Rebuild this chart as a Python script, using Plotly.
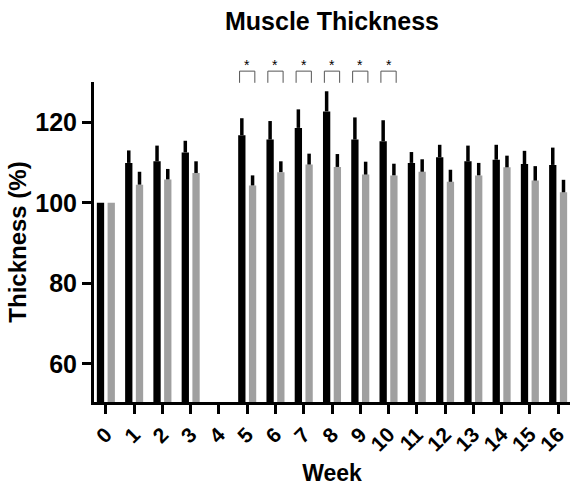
import plotly.graph_objects as go

# ---- data ----
weeks = list(range(17))
week_labels = [str(w) for w in weeks]

black_vals = [100, 109.9, 110.3, 112.5, None, 116.8, 115.7, 118.6, 122.7,
              115.7, 115.3, 109.9, 111.3, 110.3, 110.7, 109.6, 109.4]
black_err = [0, 3.1, 3.9, 2.9, 0, 4.2, 4.6, 4.6, 5.0,
             5.5, 5.2, 2.7, 3.1, 3.9, 3.7, 3.3, 4.3]

gray_vals = [100, 104.5, 105.8, 107.4, None, 104.3, 107.6, 109.5, 108.9,
             107.0, 106.8, 107.7, 105.2, 106.8, 108.8, 105.5, 102.6]
gray_err = [0, 3.2, 2.6, 2.9, 0, 2.5, 2.7, 2.7, 3.2,
            3.2, 2.9, 3.1, 3.0, 3.1, 2.9, 3.6, 3.1]

sig_weeks = [5, 6, 7, 8, 9, 10]
y_ticks = [60, 80, 100, 120]

# ---- layout constants ----
Y_MIN, Y_MAX = 50.5, 130
BRACKET_TOP = 132.7
BRACKET_BOTTOM = 129.8
STAR_LEVEL = 134.2
BRACKET_HALF = 0.27

FONT = "Liberation Sans, Arial, Helvetica, sans-serif"


def to_paper(v):
    return (v - Y_MIN) / (Y_MAX - Y_MIN)


fig = go.Figure()
fig.add_trace(go.Bar(
    x=weeks, y=black_vals, name="Group 1",
    marker=dict(color="#000000", line=dict(width=0)),
    error_y=dict(type="data", symmetric=False, array=black_err,
                 arrayminus=[0] * len(weeks), color="#000000",
                 thickness=3.5, width=0),
))
fig.add_trace(go.Bar(
    x=weeks, y=gray_vals, name="Group 2",
    marker=dict(color="#A0A0A0", line=dict(width=0)),
    error_y=dict(type="data", symmetric=False, array=gray_err,
                 arrayminus=[0] * len(weeks), color="#000000",
                 thickness=3.5, width=0),
))

# significance brackets and stars
for w in sig_weeks:
    fig.add_shape(
        type="path",
        xref="x", yref="paper",
        path=(f"M {w - BRACKET_HALF},{to_paper(BRACKET_BOTTOM)} "
              f"L {w - BRACKET_HALF},{to_paper(BRACKET_TOP)} "
              f"L {w + BRACKET_HALF},{to_paper(BRACKET_TOP)} "
              f"L {w + BRACKET_HALF},{to_paper(BRACKET_BOTTOM)}"),
        line=dict(color="#555555", width=1),
    )
    fig.add_annotation(
        x=w, y=to_paper(STAR_LEVEL), xref="x", yref="paper",
        text="*", showarrow=False, xanchor="center", yanchor="middle",
        font=dict(family=FONT, size=14, color="black"),
    )

fig.update_layout(
    width=571, height=486, autosize=False,
    margin=dict(l=94, r=1, t=82, b=84, pad=0),
    paper_bgcolor="white", plot_bgcolor="white",
    barmode="group", bargap=0.24, bargroupgap=0.32,
    showlegend=False,
    font=dict(family=FONT, color="black"),
    title=dict(text="Muscle Thickness", x=0.5, xref="paper", xanchor="center",
               y=1 - 21 / 486, yref="container", yanchor="middle",
               font=dict(family=FONT, size=25, weight="bold", color="black")),
)

fig.update_xaxes(
    range=[-0.42, 16.42], tickmode="array", tickvals=weeks, ticktext=week_labels,
    tickangle=-45, showline=True, linecolor="black", linewidth=3,
    ticks="outside", ticklen=9, tickwidth=2.5, tickcolor="black",
    tickfont=dict(family=FONT, size=21, weight="bold", color="black"),
    title=dict(text="Week", standoff=14,
               font=dict(family=FONT, size=23, weight="bold", color="black")),
    showgrid=False, zeroline=False,
)
fig.update_yaxes(
    range=[Y_MIN, Y_MAX], tickmode="array", tickvals=y_ticks,
    showline=True, linecolor="black", linewidth=3,
    ticks="outside", ticklen=9, tickwidth=2.5, tickcolor="black",
    tickfont=dict(family=FONT, size=25, weight="bold", color="black"),
    title=dict(text="Thickness (%)", standoff=2,
               font=dict(family=FONT, size=24, weight="bold", color="black")),
    showgrid=False, zeroline=False,
)

fig.write_html("out.html")
